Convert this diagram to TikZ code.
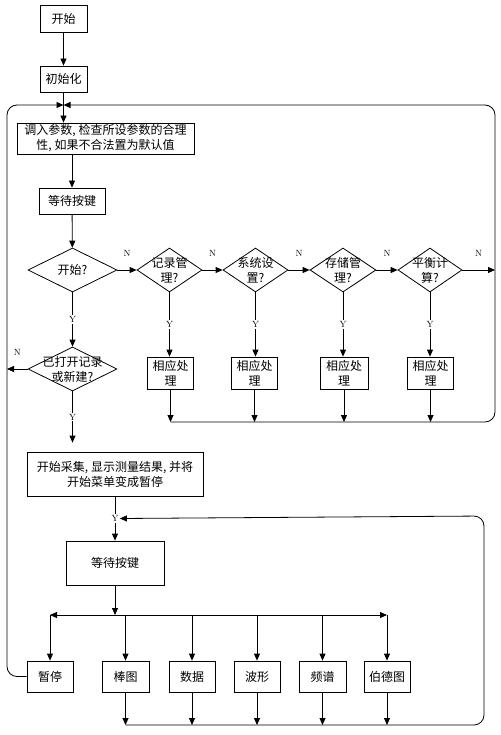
\documentclass[tikz,border=0pt]{standalone}
\usepackage{fontspec}
\newfontfamily\cjk{Noto Sans CJK SC}
\usetikzlibrary{positioning,shapes.geometric,arrows.meta}

\begin{document}
\begin{tikzpicture}[x=1pt,y=-1pt,line width=0.8pt,
  box/.style={draw, font=\cjk\fontsize{12}{15}\selectfont, align=center, inner sep=0pt},
  decide/.style={diamond, draw, inner sep=0pt, minimum height=44pt},
  dtext/.style={font=\cjk\fontsize{12}{15}\selectfont, align=center, inner sep=0pt},
  yn/.style={font=\fontsize{9}{10}\selectfont, inner sep=1pt},
  arr/.style={-{Triangle[length=7pt,width=6pt]}}]

 \useasboundingbox (0,0) rectangle (500,735);

 \node[box, minimum width=47pt, minimum height=27pt] (start) at (63.5,18.5) {开始};
 \node[box, minimum width=47pt, minimum height=26pt] (init) at (63.5,79) {初始化};
 \node[box, minimum width=177pt, minimum height=31pt] (load) at (105.5,138.5)
   {调入参数, 检查所设参数的合理\\性, 如果不合法置为默认值};
 \node[box, minimum width=66pt, minimum height=26pt] (wait1) at (72,201) {等待按键};

 \node[decide, minimum width=89pt, label={[dtext]center:开始?}] (d0) at (72.5,270) {};
 \node[decide, minimum width=65pt, label={[dtext]center:{记录管\\理?}}] (d1) at (169.5,270) {};
 \node[decide, minimum width=65pt, label={[dtext]center:{系统设\\置?}}] (d2) at (255.5,270) {};
 \node[decide, minimum width=66pt, label={[dtext]center:{存储管\\理?}}] (d3) at (343,270) {};
 \node[decide, minimum width=64pt, label={[dtext]center:{平衡计\\算?}}] (d4) at (430,270) {};

 \node[box, minimum width=46pt, minimum height=32pt] (p1) at (170.5,373) {相应处\\理};
 \node[box, minimum width=46pt, minimum height=32pt] (p2) at (254.5,373) {相应处\\理};
 \node[box, minimum width=48pt, minimum height=32pt] (p3) at (344,373) {相应处\\理};
 \node[box, minimum width=46pt, minimum height=32pt] (p4) at (430.5,373) {相应处\\理};

 \node[decide, minimum width=89pt, label={[dtext]center:{已打开记录\\或新建?}}] (d5) at (72.5,369) {};

 \node[box, minimum width=176pt, minimum height=44pt] (acq) at (115,474)
   {开始采集, 显示测量结果, 并将\\开始菜单变成暂停};
 \node[box, minimum width=98pt, minimum height=44pt] (wait2) at (115,563) {等待按键};

 \node[box, minimum width=46pt, minimum height=31pt] (pause) at (50,676.5) {暂停};
 \node[box, minimum width=47pt, minimum height=31pt] (bar) at (125.5,676.5) {棒图};
 \node[box, minimum width=46pt, minimum height=31pt] (data) at (192,676.5) {数据};
 \node[box, minimum width=46pt, minimum height=31pt] (wave) at (257,676.5) {波形};
 \node[box, minimum width=47pt, minimum height=31pt] (spec) at (322.5,676.5) {频谱};
 \node[box, minimum width=46pt, minimum height=31pt] (bode) at (387,676.5) {伯德图};

 % loop corners
 \coordinate (merge) at (63.5,105);
 \coordinate (lt) at (7,105);
 \coordinate (lb) at (7,676.5);
 \coordinate (rt) at (495,105);
 \coordinate (rb) at (495,422);
 \coordinate (rt2) at (484,516);
 \coordinate (rb2) at (484,725);
 \coordinate (split) at (115,615);

 \draw[arr] (start) -- (init);
 \draw[arr] (init) -- (init |- load.north);
 \draw[arr] (wait1 |- load.south) -- (wait1);
 \draw[arr] (wait1) -- (d0);

 \draw[arr] (d0.east) -- node[yn, above=12pt] {N} (d1.west);
 \draw[arr] (d1.east) -- node[yn, above=12pt] {N} (d2.west);
 \draw[arr] (d2.east) -- node[yn, above=12pt] {N} (d3.west);
 \draw[arr] (d3.east) -- node[yn, above=12pt] {N} (d4.west);
 \draw[arr] (d4.east) -- node[yn, above=12pt] {N} (d4.east -| rt);

 \draw[arr] (d1) -- node[yn, fill=white] {Y} (d1 |- p1.north);
 \draw[arr] (d2) -- node[yn, fill=white] {Y} (d2 |- p2.north);
 \draw[arr] (d3) -- node[yn, fill=white] {Y} (d3 |- p3.north);
 \draw[arr] (d4) -- node[yn, fill=white] {Y} (d4 |- p4.north);

 \draw[arr] (p1) -- (p1 |- rb);
 \draw[arr] (p2) -- (p2 |- rb);
 \draw[arr] (p3) -- (p3 |- rb);
 \draw[arr] (p4) -- (p4 |- rb);
 \draw[arr, rounded corners=10pt] (p1 |- rb) -- (rb) -- (rt) -- (merge);

 \draw[arr] (d0) -- node[yn, fill=white] {Y} (d5);
 \draw[arr] (d5.west) -- node[yn, above=12pt] {N} (d5.west -| lt);
 \draw[arr, shorten >=9pt] (d5) -- node[yn, fill=white, pos=0.43] {Y} (d5 |- acq.north);

 \draw[arr] (acq) -- node[yn, fill=white] (yjoin) {Y} (wait2);
 \draw[arr] (wait2) -- (split);
 \draw[arr] (split) -- (pause |- split);
 \draw[arr] (split) -- (bode |- split);
 \draw[arr] (pause |- split) -- (pause);
 \draw[arr] (bar |- split) -- (bar);
 \draw[arr] (data |- split) -- (data);
 \draw[arr] (wave |- split) -- (wave);
 \draw[arr] (spec |- split) -- (spec);
 \draw[arr] (bode |- split) -- (bode);

 \draw[arr] (bar) -- (bar |- rb2);
 \draw[arr] (data) -- (data |- rb2);
 \draw[arr] (wave) -- (wave |- rb2);
 \draw[arr] (spec) -- (spec |- rb2);
 \draw[arr] (bode) -- (bode |- rb2);
 \draw[arr, rounded corners=10pt] (bar |- rb2) -- (rb2) -- (rt2) -- (yjoin.east);

 \draw[arr, rounded corners=10pt] (pause.west) -- (lb) -- (lt) -- (merge);

\end{tikzpicture}
\end{document}
